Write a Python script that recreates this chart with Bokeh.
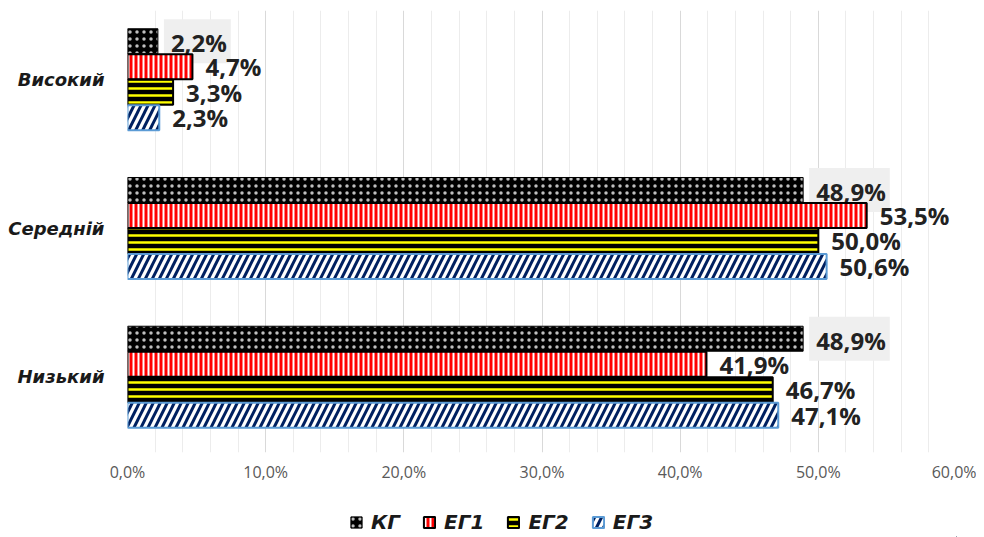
from bokeh.plotting import figure
from bokeh.models import ColumnDataSource, FixedTicker, Legend, LegendItem
from bokeh.layouts import column
from bokeh.core.properties import value
from bokeh.embed import file_html
from bokeh.resources import INLINE

# ---- data ----
categories = ["Високий", "Середній", "Низький"]
series = ["КГ", "ЕГ1", "ЕГ2", "ЕГ3"]
kg = [2.2, 48.9, 48.9]
eg1 = [4.7, 53.5, 41.9]
eg2 = [3.3, 50.0, 46.7]
eg3 = [2.3, 50.6, 47.1]
x_ticks = [0, 10, 20, 30, 40, 50, 60]
x_tick_labels = ["0,0%", "10,0%", "20,0%", "30,0%", "40,0%", "50,0%", "60,0%"]
x_minor = [2, 4, 6, 8, 12, 14, 16, 18, 22, 24, 26, 28, 32, 34, 36, 38, 42, 44, 46, 48, 52, 54, 56, 58]

values = [kg, eg1, eg2, eg3]
n = len(categories)
cat_pos = [n - 1 - i for i in range(n)]  # top to bottom

FONT = "Open Sans"
LFONT = "DejaVu Sans"
step = 0.1714
bar_h = 0.168

styles = [
    dict(fill_color="black", hatch_pattern=".", hatch_color="white", hatch_alpha=0.75,
         hatch_scale=7, hatch_weight=0.5, line_color="black", line_width=1),
    dict(fill_color="#ff0000", hatch_pattern="|", hatch_color="white", hatch_scale=5, hatch_weight=2,
         line_color="black", line_width=2),
    dict(fill_color="black", hatch_pattern="-", hatch_color="#ffff00", hatch_scale=7, hatch_weight=2.5,
         line_color="black", line_width=2),
    dict(fill_color="white", hatch_pattern="/", hatch_color="#002060", hatch_scale=14, hatch_weight=3,
         line_color="#5b9bd5", line_width=2),
]

W = 976
p = figure(width=W, height=490, x_range=(0, 60), y_range=(-0.508, 2.464),
           output_backend="svg", toolbar_location=None,
           min_border_left=127, min_border_right=20, min_border_top=10, min_border_bottom=38)
p.outline_line_color = None
p.background_fill_color = "white"

for i, (name, vals, st) in enumerate(zip(series, values, styles)):
    off = (1.5 - i) * step
    ys = [c + off for c in cat_pos]
    labels = [f"{v:.1f}%".replace(".", ",") for v in vals]
    src = ColumnDataSource(dict(y=ys, right=vals, lab=labels))
    p.hbar(y="y", left=0, right="right", height=bar_h, source=src, **st)
    extra = dict(x_offset=13)
    if i == 0:
        extra = dict(x_offset=6, background_fill_color="#efefef", padding=[7, 4, 7, 4])
    p.text(x="right", y="y", text="lab", source=src, text_align="left",
           text_baseline="middle", text_font=value(FONT), text_font_size="24px",
           text_font_style="bold", text_color="#222222", **extra)

# x axis
p.xaxis.ticker = FixedTicker(ticks=x_ticks, minor_ticks=x_minor)
p.xaxis.major_label_overrides = {t: l for t, l in zip(x_ticks, x_tick_labels)}
p.xaxis.axis_line_color = None
p.xaxis.major_tick_line_color = None
p.xaxis.minor_tick_line_color = None
p.xaxis.major_tick_out = 0
p.xaxis.major_tick_in = 0
p.xaxis.minor_tick_out = 0
p.xaxis.major_label_text_font = FONT
p.xaxis.major_label_text_font_size = "16px"
p.xaxis.major_label_text_color = "#595959"
p.xaxis.major_label_standoff = 8
p.xgrid.grid_line_color = "#d9d9d9"
p.xgrid.minor_grid_line_color = "#ececec"

# y axis
p.yaxis.ticker = FixedTicker(ticks=cat_pos)
p.yaxis.major_label_overrides = {pos: c for pos, c in zip(cat_pos, categories)}
p.yaxis.axis_line_color = None
p.yaxis.major_tick_line_color = None
p.yaxis.minor_tick_line_color = None
p.yaxis.major_tick_out = 0
p.yaxis.major_tick_in = 0
p.yaxis.minor_tick_out = 0
p.yaxis.major_label_text_font = LFONT
p.yaxis.major_label_text_font_size = "18px"
p.yaxis.major_label_text_font_style = "bold italic"
p.yaxis.major_label_text_color = "#1a1a1a"
p.yaxis.major_label_standoff = 23
p.ygrid.grid_line_color = None

# legend strip below the chart (legend swatches need one zero-length, off-frame bar each)
lg = figure(width=W, height=47, x_range=(0, 1), y_range=(0, 1), output_backend="svg",
            toolbar_location=None, x_axis_location=None, y_axis_location=None,
            min_border=0)
lg.outline_line_color = None
lg.grid.visible = False
leg_renderers = []
for name, vals, st in zip(series, values, styles):
    leg_renderers.append(lg.hbar(y=[-5], left=[vals[0]], right=[vals[0]], height=0.1, **st))
legend = Legend(items=[LegendItem(label=s, renderers=[r]) for s, r in zip(series, leg_renderers)],
                orientation="horizontal", location=(222, 3),
                glyph_width=14, glyph_height=14, label_standoff=8, spacing=22,
                padding=0, margin=0, border_line_color=None, background_fill_alpha=0,
                label_text_font=LFONT, label_text_font_size="20px",
                label_text_font_style="bold italic", label_text_color="#1a1a1a")
lg.add_layout(legend, "center")

layout = column(p, lg, spacing=0)
open("out.html", "w").write(file_html(layout, INLINE))
